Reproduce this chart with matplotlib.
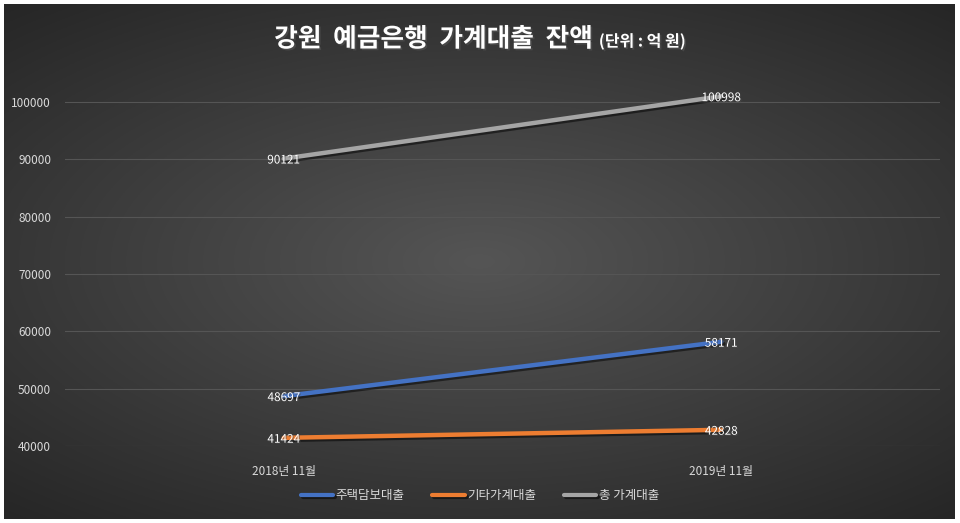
import numpy as np
import matplotlib
matplotlib.use("Agg")
import matplotlib.pyplot as plt
import matplotlib.patheffects as pe

plt.rcParams['font.family'] = ['Noto Sans CJK KR', 'DejaVu Sans']

categories = ["2018년 11월", "2019년 11월"]
series_names = ["주택담보대출", "기타가계대출", "총 가계대출"]
housing = [48697, 58171]
other = [41424, 42828]
total = [90121, 100998]
yticks = [40000, 50000, 60000, 70000, 80000, 90000, 100000]

colors = ["#4472C4", "#ED7D31", "#A5A5A5"]

W, H = 960, 523
fig = plt.figure(figsize=(W / 100, H / 100), dpi=100, facecolor="white")

# background radial gradient
bg = fig.add_axes([4 / W, 4 / H, 951 / W, 515 / H])
bg.set_axis_off()
yy, xx = np.mgrid[0:1:300j, 0:1:560j]
r = np.sqrt(((xx - 0.5) / 0.8) ** 2 + ((yy - 0.5) / 0.7) ** 2)
r = np.clip(r / 0.95, 0, 1)
c0 = np.array([0x55, 0x55, 0x55]) / 255
c1 = np.array([0x26, 0x26, 0x26]) / 255
img = c0[None, None, :] * (1 - r[..., None]) + c1[None, None, :] * r[..., None]
bg.imshow(img, aspect="auto", extent=[0, 1, 0, 1], origin="lower")
bg.set_xlim(0, 1)
bg.set_ylim(0, 1)

left, right = 65 / W, 940 / W
bottom = 1 - 446 / H
scale = (446 - 102) / 6.0  # px per 10000
ytop = 102000
top_px = 446 - (ytop - 40000) / 10000 * scale
ax = fig.add_axes([left, bottom, right - left, (446 - top_px) / H])
ax.set_facecolor("none")
ax.set_xlim(-0.5, 1.5)
ax.set_ylim(40000, ytop)
for s in ax.spines.values():
    s.set_visible(False)
ax.set_yticks(yticks)
ax.set_yticklabels([str(v) for v in yticks], color="#d9d9d9", fontsize=8.5)
ax.set_xticks(range(len(categories)))
ax.set_xticklabels(categories, color="#d9d9d9", fontsize=8.5)
ax.tick_params(length=0, pad=14)
ax.tick_params(axis="y", pad=10)
ax.grid(axis="y", color="#555555", linewidth=0.8)
ax.set_axisbelow(True)

x = np.arange(len(categories))
shadow = [pe.SimpleLineShadow(offset=(1.5, -1.5), shadow_color="black", alpha=0.5), pe.Normal()]
for vals, name, col in zip([housing, other, total], series_names, colors):
    ax.plot(x, vals, color=col, linewidth=3.2, label=name, path_effects=shadow, solid_capstyle="round")
    for xi, v in zip(x, vals):
        ax.annotate(str(v), (xi, v), xytext=(0, -1), textcoords="offset points",
                    ha="center", va="center", color="white", fontsize=8.5,
                    path_effects=[pe.withSimplePatchShadow(offset=(0.8, -0.8), alpha=0.6)])

leg = fig.legend(loc="center", bbox_to_anchor=(0.5, 1 - 496 / H), ncol=3, frameon=False,
                 fontsize=9, labelcolor="#d9d9d9", handlelength=2.6, handletextpad=0.2,
                 columnspacing=2.2)
for h in leg.get_lines():
    h.set_linewidth(3)

t1 = fig.text(0, 0, "강원  예금은행  가계대출  잔액 ", fontsize=18.5, fontweight="bold", color="white")
t2 = fig.text(0, 0, "(단위 : 억 원)", fontsize=11.5, fontweight="bold", color="white")
fig.canvas.draw()
rend = fig.canvas.get_renderer()
w1 = t1.get_window_extent(rend).width / W
w2 = t2.get_window_extent(rend).width / W
x0 = 0.5 - (w1 + w2) / 2
ycen = 1 - 39 / H
t1.set_position((x0, ycen))
t1.set_va("center")
t2.set_position((x0 + w1, ycen - 0.004))
t2.set_va("center")
for t in (t1, t2):
    t.set_path_effects([pe.withSimplePatchShadow(offset=(1.2, -1.2), alpha=0.8)])

fig.savefig("out.png", dpi=100, facecolor="white")
